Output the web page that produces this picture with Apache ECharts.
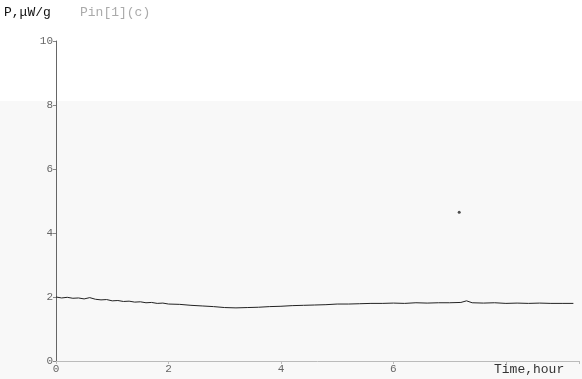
<!DOCTYPE html>
<html>
<head>
<meta charset="utf-8">
<script src="https://cdn.jsdelivr.net/npm/echarts@6/dist/echarts.min.js"></script>
<style>html,body{margin:0;padding:0;background:#fff}#c{width:582px;height:379px}</style>
</head>
<body>
<div id="c"></div>
<script>
// Data
var timeHours = [0, 0.1, 0.2, 0.3, 0.4, 0.5, 0.6, 0.7, 0.8, 0.9, 1.0, 1.1, 1.2, 1.3, 1.4, 1.5, 1.6, 1.7, 1.8, 1.9, 2.0, 2.2, 2.4, 2.6, 2.8, 3.0, 3.2, 3.4, 3.6, 3.8, 4.0, 4.2, 4.4, 4.6, 4.8, 5.0, 5.2, 5.4, 5.6, 5.8, 6.0, 6.2, 6.4, 6.6, 6.8, 7.0, 7.2, 7.3, 7.4, 7.6, 7.8, 8.0, 8.2, 8.4, 8.6, 8.8, 9.0, 9.2];
var powerValues = [2.00, 1.97, 1.99, 1.96, 1.97, 1.94, 1.98, 1.93, 1.91, 1.92, 1.88, 1.89, 1.86, 1.87, 1.84, 1.85, 1.82, 1.83, 1.80, 1.81, 1.78, 1.77, 1.74, 1.72, 1.70, 1.67, 1.66, 1.67, 1.68, 1.70, 1.71, 1.73, 1.74, 1.75, 1.76, 1.78, 1.78, 1.79, 1.80, 1.80, 1.81, 1.80, 1.82, 1.81, 1.82, 1.82, 1.83, 1.88, 1.82, 1.81, 1.82, 1.80, 1.81, 1.80, 1.81, 1.80, 1.80, 1.80];
var strayPoint = [[7.17, 4.65]];
var yTicks = [0, 2, 4, 6, 8, 10];
var xTicks = [0, 2, 4, 6];

var lineData = timeHours.map(function (t, i) { return [t, powerValues[i]]; });

var chart = echarts.init(document.getElementById('c'));
chart.setOption({
  backgroundColor: '#f8f8f8',
  animation: false,
  grid: { left: 56, right: 2, top: 41, bottom: 18 },
  graphic: [
    { type: 'rect', z: -10, shape: { x: 0, y: 0, width: 582, height: 101 }, style: { fill: '#ffffff' } },
    { type: 'text', left: 4, top: 6, style: { text: 'P,\u03bcW/g', font: '13px "Liberation Mono", monospace', fill: '#111' } },
    { type: 'text', left: 80, top: 6, style: { text: 'Pin[1](c)', font: '13px "Liberation Mono", monospace', fill: '#aaa' } },
    { type: 'text', left: 494, top: 363, style: { text: 'Time,hour', font: '13px "Liberation Mono", monospace', fill: '#333' } }
  ],
  xAxis: {
    type: 'value', min: 0, max: 9.3, interval: 2,
    axisLine: { show: true, lineStyle: { color: '#bbb', width: 1 } },
    axisTick: { show: true, length: 3, inside: false, lineStyle: { color: '#bbb' } },
    splitLine: { show: false },
    axisLabel: {
      color: '#666', fontFamily: 'Liberation Mono', fontSize: 11, margin: 3,
      formatter: function (v) { return xTicks.indexOf(v) >= 0 ? String(v) : ''; }
    }
  },
  yAxis: {
    type: 'value', min: 0, max: 10, interval: 2,
    axisLine: { show: true, lineStyle: { color: '#666', width: 1 } },
    axisTick: { show: true, length: 3, lineStyle: { color: '#888' } },
    splitLine: { show: false },
    axisLabel: {
      color: '#666', fontFamily: 'Liberation Mono', fontSize: 11, margin: 3,
      formatter: function (v) { return yTicks.indexOf(v) >= 0 ? String(v) : ''; }
    }
  },
  series: [
    {
      type: 'line', data: lineData, showSymbol: false, smooth: false,
      lineStyle: { color: '#222', width: 1 }
    },
    {
      type: 'scatter', data: strayPoint, symbolSize: 3,
      itemStyle: { color: '#222' }
    }
  ]
});
</script>
</body>
</html>
